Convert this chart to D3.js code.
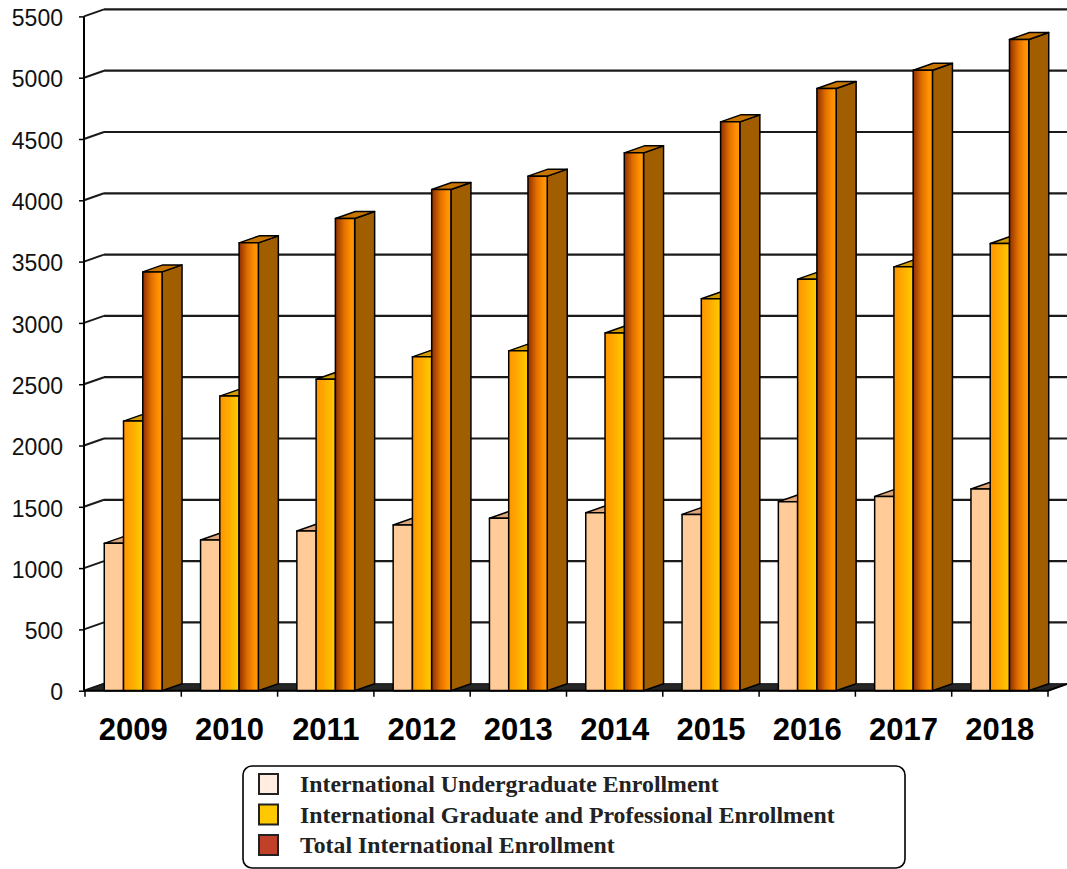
<!DOCTYPE html>
<html><head><meta charset="utf-8">
<script src="https://cdn.jsdelivr.net/npm/d3@7"></script>
<style>
html,body{margin:0;padding:0;background:#fff;}
svg{display:block;}
</style></head>
<body>
<script>
const years = ["2009","2010","2011","2012","2013","2014","2015","2016","2017","2018"];
const undergrad = [1202,1229,1302,1351,1406,1451,1438,1541,1585,1645];
const graduate  = [2199,2403,2541,2723,2772,2917,3197,3357,3457,3648];
const total     = [3416,3653,3852,4088,4197,4387,4640,4912,5061,5311];
const yTicks = [0,500,1000,1500,2000,2500,3000,3500,4000,4500,5000,5500];
const seriesNames = ["International Undergraduate Enrollment","International Graduate and Professional Enrollment","Total International Enrollment"];
const legendColors = ["#FFEDE2","#FFC800","#C0402A"];

const W=1067,H=869;
const DX=20, DY=-7;
const svg=d3.select("body").append("svg").attr("width",W).attr("height",H);
const defs=svg.append("defs");
function grad(id,stops){
  const g=defs.append("linearGradient").attr("id",id).attr("x1","0").attr("x2","1").attr("y1","0").attr("y2","0");
  stops.forEach(s=>g.append("stop").attr("offset",s[0]).attr("stop-color",s[1]));
}
grad("gGrad",[[0,"#FF9400"],[0.55,"#FFB000"],[1,"#FFCC00"]]);
grad("gTot",[[0,"#8E2E00"],[0.45,"#E07000"],[0.8,"#FF9000"],[1,"#FF9A10"]]);

const x=d3.scaleBand().domain(years).range([85,1048]).padding(0);
const y=d3.scaleLinear().domain([0,5500]).range([690.7,16.4]);
const bw=x.bandwidth()/5;
const x0=84, x1=1048;

// back wall gridlines and side wall diagonals
const grid=svg.append("g");
yTicks.forEach(v=>{
  const yy=y(v);
  if(v>0){
    grid.append("line").attr("x1",x0+DX).attr("x2",x1+DX).attr("y1",yy+DY).attr("y2",yy+DY)
      .attr("stroke","#1a1a1a").attr("stroke-width",2.2);
  }
  grid.append("line").attr("x1",x0).attr("x2",x0+DX).attr("y1",yy).attr("y2",yy+DY)
    .attr("stroke","#1a1a1a").attr("stroke-width",2);
});

// floor
svg.append("path")
  .attr("d",`M${x0},${y(0)}L${x1},${y(0)}L${x1+DX},${y(0)+DY}L${x0+DX},${y(0)+DY}Z`)
  .attr("fill","#262626").attr("stroke","#111").attr("stroke-width",1);

// bars
const series=[
  {vals:undergrad, front:"#FFCC99", top:"#DDA67A", side:"#D9A070"},
  {vals:graduate, front:"url(#gGrad)", top:"#D29C00", side:"#C08800"},
  {vals:total, front:"url(#gTot)", top:"#C87400", side:"#A05E00"}
];
const bars=svg.append("g");
years.forEach((yr,i)=>{
  series.forEach((s,k)=>{
    const bx=x(yr)+bw*(1+k), bx2=bx+bw;
    const yb=y(0), yt=y(s.vals[i]);
    const g=bars.append("g").attr("stroke","#000").attr("stroke-width",1.5).attr("stroke-linejoin","round");
    g.append("path").attr("d",`M${bx2},${yb}L${bx2+DX},${yb+DY}L${bx2+DX},${yt+DY}L${bx2},${yt}Z`).attr("fill",s.side);
    g.append("path").attr("d",`M${bx},${yt}L${bx2},${yt}L${bx2+DX},${yt+DY}L${bx+DX},${yt+DY}Z`).attr("fill",s.top);
    g.append("rect").attr("x",bx).attr("y",yt).attr("width",bw).attr("height",yb-yt).attr("fill",s.front);
  });
});

// y axis
const ya=svg.append("g").attr("transform",`translate(${x0},0)`)
  .call(d3.axisLeft(y).tickValues(yTicks).tickSize(5).tickPadding(16).tickFormat(d3.format("d")));
ya.select(".domain").attr("stroke","#000").attr("stroke-width",2).attr("d",`M0,${y(5500)}V${y(0)}`);
ya.selectAll(".tick line").attr("stroke","#000").attr("stroke-width",1.5);
ya.selectAll(".tick text").attr("font-family","'Liberation Sans',Arial,sans-serif").attr("font-size",23).attr("fill","#111").attr("dy","0.4em");

// x axis
const xa=svg.append("g").attr("transform",`translate(0,${y(0)})`)
  .call(d3.axisBottom(x).tickSize(0).tickPadding(27));
xa.select(".domain").attr("stroke","#000").attr("stroke-width",2).attr("d",`M${x0},0H${x1}L${x1+DX},${DY}`);
xa.selectAll(".tick text").attr("font-family","'Liberation Sans',Arial,sans-serif").attr("font-size",31).attr("font-weight","bold").attr("fill","#000");
const bounds=years.map(d=>x(d)).concat([x(years[years.length-1])+x.bandwidth()]);
xa.selectAll("line.bnd").data(bounds).enter().append("line").attr("class","bnd")
  .attr("x1",d=>d).attr("x2",d=>d).attr("y1",0).attr("y2",6).attr("stroke","#000").attr("stroke-width",1.5);

// legend
const lg=svg.append("g");
lg.append("rect").attr("x",243).attr("y",766).attr("width",662).attr("height",102).attr("rx",9)
  .attr("fill","#fff").attr("stroke","#000").attr("stroke-width",1.6);
seriesNames.forEach((n,i)=>{
  const cy=784+i*30.5;
  lg.append("rect").attr("x",259).attr("y",cy-10).attr("width",19).attr("height",20)
    .attr("fill",legendColors[i]).attr("stroke","#222").attr("stroke-width",2);
  lg.append("text").attr("x",300).attr("y",cy+8).text(n)
    .attr("font-family","'Liberation Serif','Times New Roman',serif").attr("font-weight","bold")
    .attr("font-size",23.8).attr("fill","#222");
});
</script>
</body></html>
